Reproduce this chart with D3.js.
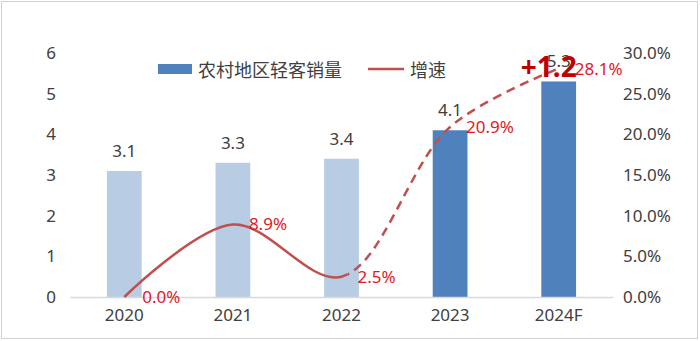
<!DOCTYPE html>
<html><head><meta charset="utf-8">
<script src="https://cdn.jsdelivr.net/npm/d3@7"></script>
<style>body{margin:0;background:#fff;}svg{display:block;font-family:"Noto Sans","Noto Sans CJK SC",sans-serif;}</style>
</head><body>
<svg id="c" width="700" height="341"></svg>
<script>
const categories = ["2020","2021","2022","2023","2024F"];
const sales = [3.1, 3.3, 3.4, 4.1, 5.3];
const growth = [0.0, 8.9, 2.5, 20.9, 28.1];
const leftTicks = [0,1,2,3,4,5,6];
const rightTicks = [0,5,10,15,20,25,30];
const barColors = ["#b8cce4","#b8cce4","#b8cce4","#4f81bd","#4f81bd"];

const svg = d3.select("#c");
svg.append("rect").attr("x",1.5).attr("y",1.5).attr("width",696).attr("height",337)
  .attr("fill","#fff").attr("stroke","#d0d0d0");

const x = d3.scaleBand().domain(categories).range([70,613]).paddingInner(0.68).paddingOuter(0.34);
const yL = d3.scaleLinear().domain([0,6]).range([297,53]);
const yR = d3.scaleLinear().domain([0,30]).range([297,53]);

const la = svg.append("g").attr("transform","translate(56,0)")
  .call(d3.axisLeft(yL).tickValues(leftTicks).tickSize(0).tickPadding(0).tickFormat(d3.format("d")));
la.select(".domain").remove();
la.selectAll("text").attr("font-size",17).attr("fill","#404040").attr("font-family","Noto Sans");

const ra = svg.append("g").attr("transform","translate(623,0)")
  .call(d3.axisRight(yR).tickValues(rightTicks).tickSize(0).tickPadding(0).tickFormat(d=>d.toFixed(1)+"%"));
ra.select(".domain").remove();
ra.selectAll("text").attr("font-size",17).attr("fill","#404040").attr("font-family","Noto Sans");

svg.selectAll("rect.bar").data(categories).join("rect").attr("class","bar")
  .attr("x",d=>x(d)).attr("width",x.bandwidth())
  .attr("y",(d,i)=>yL(sales[i])).attr("height",(d,i)=>yL(0)-yL(sales[i]))
  .attr("fill",(d,i)=>barColors[i]);

const xa = svg.append("g").attr("transform","translate(0,297)")
  .call(d3.axisBottom(x).tickSize(0).tickPadding(12));
xa.select(".domain").attr("stroke","#d9d9d9").attr("stroke-width",1.5);
xa.selectAll("text").attr("font-size",17).attr("fill","#404040").attr("font-family","Noto Sans");

svg.selectAll("text.bl").data(categories).join("text").attr("class","bl")
  .attr("x",d=>x(d)+x.bandwidth()/2).attr("y",(d,i)=>yL(sales[i])-14)
  .attr("text-anchor","middle").attr("font-size",17).attr("fill","#404040")
  .text((d,i)=>sales[i].toFixed(1));

const pts = categories.map((d,i)=>[x(d)+x.bandwidth()/2, yR(growth[i])]);
const line = d3.line().curve(d3.curveCatmullRom.alpha(0.5));
const defs = svg.append("defs");
const xSplit = pts[2][0]+6;
defs.append("clipPath").attr("id","solidClip").append("rect").attr("x",0).attr("y",0).attr("width",xSplit).attr("height",341);
defs.append("clipPath").attr("id","dashClip").append("rect").attr("x",xSplit).attr("y",0).attr("width",700-xSplit).attr("height",341);
svg.append("path").attr("d",line(pts)).attr("fill","none").attr("stroke","#c0504d").attr("stroke-width",2.5)
  .attr("clip-path","url(#solidClip)");
svg.append("path").attr("d",line(pts)).attr("fill","none").attr("stroke","#c0504d").attr("stroke-width",2.5)
  .attr("stroke-dasharray","9,6").attr("clip-path","url(#dashClip)");

const gOff = [[18,0],[16,-1],[16,0],[16,0],[16,1]];
svg.selectAll("text.gl").data(categories).join("text").attr("class","gl")
  .attr("x",(d,i)=>pts[i][0]+gOff[i][0]).attr("y",(d,i)=>pts[i][1]+gOff[i][1]+6)
  .attr("font-size",17).attr("fill","#e0191f")
  .text((d,i)=>growth[i].toFixed(1)+"%");

svg.append("text").attr("x",x("2024F")+x.bandwidth()/2-10).attr("y",yL(sales[4])-4)
  .attr("text-anchor","middle").attr("font-size",28).attr("font-weight","bold").attr("fill","#c00000")
  .text("+" + (sales[4]-sales[3]).toFixed(1));

const lg = svg.append("g");
lg.append("rect").attr("x",158).attr("y",64).attr("width",34).attr("height",10).attr("fill","#4f81bd");
lg.append("text").attr("x",198).attr("y",77).attr("font-size",18).attr("fill","#404040")
  .attr("font-family","Noto Sans CJK SC").text("农村地区轻客销量");
lg.append("line").attr("x1",368).attr("x2",404).attr("y1",69).attr("y2",69).attr("stroke","#c0504d").attr("stroke-width",2.5);
lg.append("text").attr("x",410).attr("y",77).attr("font-size",18).attr("fill","#404040")
  .attr("font-family","Noto Sans CJK SC").text("增速");
</script>
</body></html>
